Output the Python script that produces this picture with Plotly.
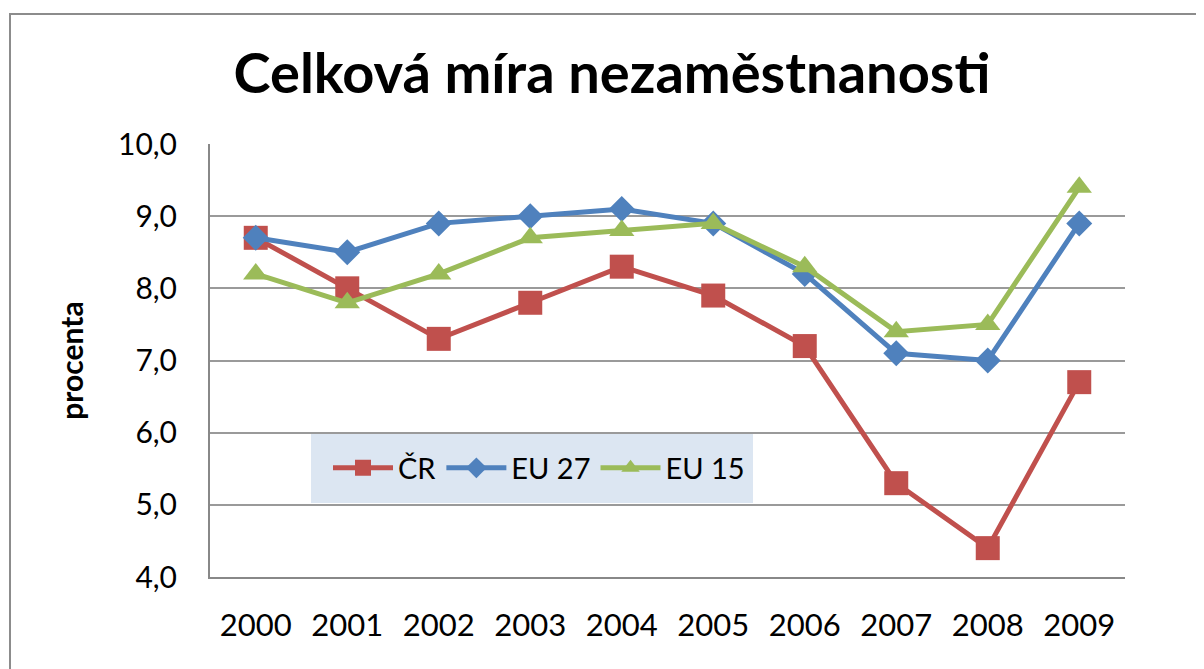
import plotly.graph_objects as go

years = ["2000", "2001", "2002", "2003", "2004", "2005", "2006", "2007", "2008", "2009"]
cr = [8.7, 8.0, 7.3, 7.8, 8.3, 7.9, 7.2, 5.3, 4.4, 6.7]
eu27 = [8.7, 8.5, 8.9, 9.0, 9.1, 8.9, 8.2, 7.1, 7.0, 8.9]
eu15 = [8.2, 7.8, 8.2, 8.7, 8.8, 8.9, 8.3, 7.4, 7.5, 9.4]
y_ticks = [4, 5, 6, 7, 8, 9, 10]
y_tick_labels = ["4,0", "5,0", "6,0", "7,0", "8,0", "9,0", "10,0"]

W, H = 1204, 669
OFF = 8  # page body margin offset
# desired screen positions of plot area
SL, SR, ST, SB = 210, 1125, 144, 577
L = SL - OFF
R = W - (SR - OFF)
T = ST - OFF
B = H - (SB - OFF)
pw, ph = W - L - R, H - T - B

def px_x(p):
    return (p - OFF - L) / pw

def px_y(p):
    return (H - B - (p - OFF)) / ph

fig = go.Figure()
fig.add_trace(go.Scatter(x=years, y=cr, name="ČR", mode="lines+markers",
                         line=dict(color="#C0504D", width=5),
                         marker=dict(symbol="square", size=24, color="#C0504D")))
fig.add_trace(go.Scatter(x=years, y=eu27, name="EU 27", mode="lines+markers",
                         line=dict(color="#4F81BD", width=5),
                         marker=dict(symbol="diamond", size=20, color="#4F81BD")))
fig.add_trace(go.Scatter(x=years, y=eu15, name="EU 15", mode="lines+markers",
                         line=dict(color="#9BBB59", width=5),
                         marker=dict(symbol="triangle-up", size=22, color="#9BBB59")))

shapes = [
    dict(type="rect", xref="paper", yref="paper", layer="below",
         x0=px_x(311), x1=px_x(753), y0=px_y(503), y1=px_y(432),
         fillcolor="#DCE6F2", line=dict(width=0)),
    dict(type="rect", xref="paper", yref="paper",
         x0=px_x(10), x1=px_x(1230), y0=px_y(700), y1=px_y(14),
         fillcolor="rgba(0,0,0,0)", line=dict(color="#8C8C8C", width=2)),
]

FONT = "Lato, 'Open Sans', sans-serif"
fig.update_layout(
    width=W, height=H,
    margin=dict(l=L, r=R, t=T, b=B),
    paper_bgcolor="#FFFFFF", plot_bgcolor="#FFFFFF",
    font=dict(family=FONT, color="#000000"),
    title=dict(text="<b>Celková míra nezaměstnanosti</b>", x=(612 - OFF) / W, xanchor="center",
               y=1 - (73 - OFF) / H, yanchor="middle",
               font=dict(size=56, family=FONT, color="#000000")),
    showlegend=True,
    legend=dict(orientation="h", x=px_x(328), y=px_y(468), xanchor="left", yanchor="middle",
                bgcolor="rgba(0,0,0,0)", font=dict(size=29, color="#000000"),
                itemwidth=60, tracegroupgap=0),
    xaxis=dict(type="category", range=[-0.5, 9.5], showgrid=False,
               showline=True, linecolor="#888888", linewidth=2,
               ticks="", tickfont=dict(size=31, color="#000000"), ticklabelstandoff=20,
               fixedrange=True),
    yaxis=dict(range=[4, 10], tickvals=y_ticks, ticktext=y_tick_labels,
               showgrid=True, gridcolor="#9A9A9A", gridwidth=2,
               showline=True, linecolor="#888888", linewidth=2, zeroline=False,
               ticks="", tickfont=dict(size=30, color="#000000"), ticklabelstandoff=25,
               title=dict(text="<b>procenta</b>", font=dict(size=30, color="#000000"), standoff=25),
               fixedrange=True),
    shapes=shapes,
)

fig.write_html("out.html")
